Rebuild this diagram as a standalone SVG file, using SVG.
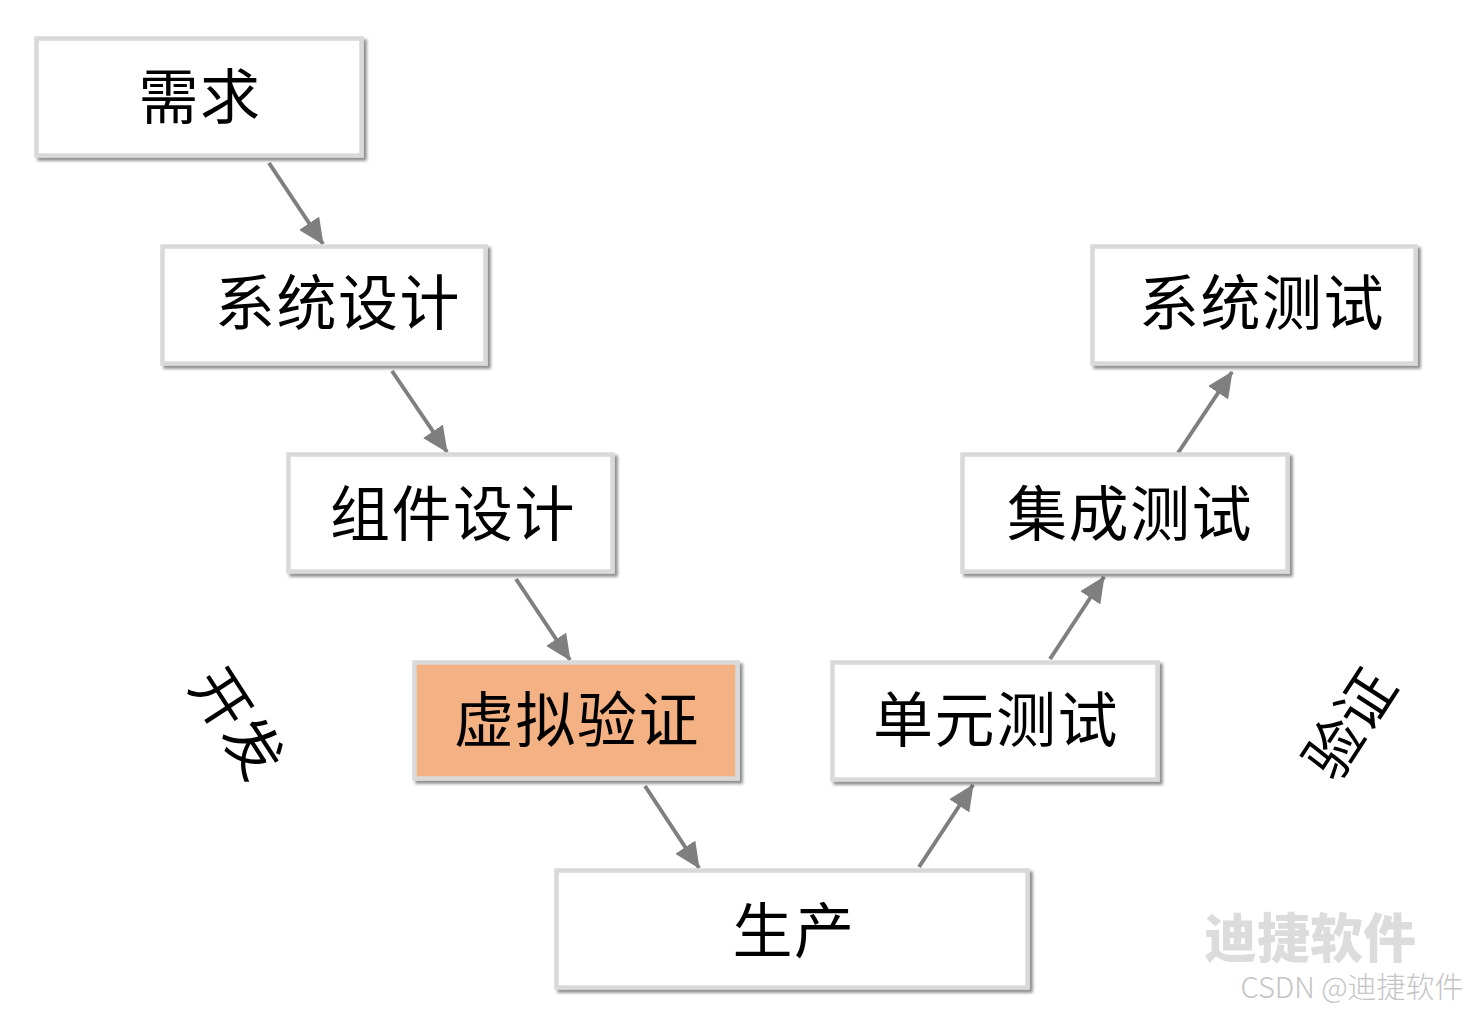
<svg xmlns="http://www.w3.org/2000/svg" width="1466" height="1014" viewBox="0 0 1466 1014">
<defs>
<filter id="sh" x="-5%" y="-10%" width="110%" height="120%"><feDropShadow dx="3" dy="3" stdDeviation="1.6" flood-color="#000" flood-opacity="0.45"/></filter>
<marker id="arr" viewBox="0 0 26 24" refX="25" refY="12" markerWidth="26" markerHeight="24" markerUnits="userSpaceOnUse" orient="auto"><path d="M0 0L26 12L0 24Z" fill="#7f7f7f"/></marker>
</defs>
<style>
text{font-family:"Noto Sans CJK SC","Liberation Sans",sans-serif;fill:#000;font-size:60px;text-anchor:middle;letter-spacing:1.5px}
.b{fill:#fff;stroke:#d9d9d9;stroke-width:4.5;filter:url(#sh)}
.c{stroke:#7f7f7f;stroke-width:4;fill:none;marker-end:url(#arr)}
</style>
<rect width="1466" height="1014" fill="#fff"/>
<g id="connectors">
<path class="c" d="M269 163L323 244"/>
<path class="c" d="M392 371L447 452"/>
<path class="c" d="M516 579L570 660"/>
<path class="c" d="M645 786L699 868"/>
<path class="c" d="M919 867L973 785"/>
<path class="c" d="M1050 659L1104 577"/>
<path class="c" d="M1178 453L1232 372"/>
</g>
<g id="n1"><rect class="b" x="36.500" y="38.500" width="325" height="117"/><text x="200" y="119">需求</text></g>
<g id="n2"><rect class="b" x="162.500" y="246.500" width="323" height="117"/><text x="338" y="325">系统设计</text></g>
<g id="n3"><rect class="b" x="288.500" y="454.500" width="324" height="117"/><text x="453" y="536">组件设计</text></g>
<g id="n4"><rect class="b" x="414.500" y="662.500" width="323" height="116" style="fill:#f4b183"/><text x="577" y="742">虚拟验证</text></g>
<g id="n5"><rect class="b" x="556.500" y="870.500" width="471" height="117"/><text x="794" y="953">生产</text></g>
<g id="n6"><rect class="b" x="832.500" y="662.500" width="325" height="117"/><text x="996" y="742">单元测试</text></g>
<g id="n7"><rect class="b" x="962.500" y="454.500" width="325" height="117"/><text x="1130" y="536">集成测试</text></g>
<g id="n8"><rect class="b" x="1092.500" y="246.500" width="323" height="117"/><text x="1262" y="325">系统测试</text></g>
<g id="label-dev"><text transform="translate(237 723) rotate(57)" y="21" style="font-size:58px;letter-spacing:0">开发</text></g>
<g id="label-ver"><text transform="translate(1350 724) rotate(-57)" y="21" style="font-size:58px;letter-spacing:0">验证</text></g>
<g id="watermark">
<text x="1310" y="958" style="font-size:53px;font-weight:900;fill:#dcdcdc;letter-spacing:0">迪捷软件</text>
<text x="1352" y="998" style="font-size:29px;font-weight:300;fill:#c4c4c4;letter-spacing:0">CSDN @迪捷软件</text>
</g>
</svg>
